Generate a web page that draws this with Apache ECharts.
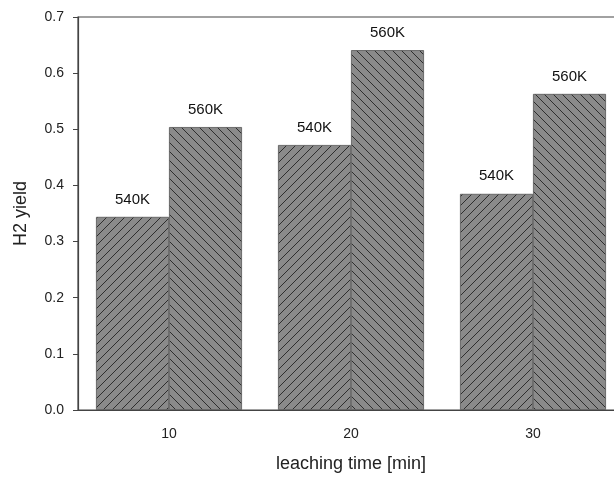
<!DOCTYPE html>
<html>
<head>
<meta charset="utf-8">
<script src="https://cdn.jsdelivr.net/npm/echarts@6/dist/echarts.min.js"></script>
<style>html,body{margin:0;padding:0;background:#fff;}#c{width:614px;height:477px;}</style>
</head>
<body>
<div id="c"></div>
<script>
const categories = ['10', '20', '30'];
const seriesNames = ['540K', '560K'];
const values540 = [0.344, 0.472, 0.385];
const values560 = [0.504, 0.641, 0.563];
const yTicks = [0.0, 0.1, 0.2, 0.3, 0.4, 0.5, 0.6, 0.7];

function hatch(dir) {
  const s = 9;
  const c = document.createElement('canvas');
  c.width = s; c.height = s;
  const g = c.getContext('2d');
  g.fillStyle = '#8a8a8a';
  g.fillRect(0, 0, s, s);
  g.strokeStyle = '#2e2e2e';
  g.lineWidth = 1;
  g.beginPath();
  for (let k = -1; k <= 1; k++) {
    if (dir > 0) { g.moveTo(k * s, s); g.lineTo(k * s + s, 0); }
    else { g.moveTo(k * s, 0); g.lineTo(k * s + s, s); }
  }
  g.stroke();
  return { image: c, repeat: 'repeat' };
}

const chart = echarts.init(document.getElementById('c'), null, { renderer: 'canvas' });
const font = 'Liberation Sans, Arial, sans-serif';
chart.setOption({
  animation: false,
  backgroundColor: '#fff',
  grid: { left: 78, width: 546, top: 17, height: 393, outerBoundsMode: 'none', containLabel: false,
          show: true, borderColor: '#444', borderWidth: 1.2, backgroundColor: 'transparent' },
  xAxis: {
    type: 'category', data: categories,
    name: 'leaching time [min]', nameLocation: 'middle', nameGap: 45,
    nameTextStyle: { fontFamily: font, fontSize: 18, color: '#222' },
    axisLine: { lineStyle: { color: '#444', width: 1.2 } },
    axisTick: { alignWithLabel: true, length: 6, lineStyle: { color: '#444' } },
    axisLabel: { fontFamily: font, fontSize: 14, color: '#222', margin: 17 }
  },
  yAxis: {
    type: 'value', min: 0, max: 0.7, interval: 0.1,
    name: 'H2 yield', nameLocation: 'middle', nameGap: 48, nameRotate: 90,
    nameTextStyle: { fontFamily: font, fontSize: 18, color: '#222' },
    splitLine: { show: false },
    axisLine: { show: true, lineStyle: { color: '#444', width: 1.2 } },
    axisTick: { show: true, length: 5, lineStyle: { color: '#444' } },
    axisLabel: { fontFamily: font, fontSize: 14, color: '#222', margin: 14, formatter: v => v.toFixed(1) }
  },
  series: [
    { name: seriesNames[0], type: 'bar', data: values540, barWidth: 73, barGap: '0%',
      itemStyle: { color: hatch(1), borderColor: '#555', borderWidth: 0.8 },
      label: { show: true, position: 'top', distance: 10, formatter: seriesNames[0], fontFamily: font, fontSize: 15, color: '#111' } },
    { name: seriesNames[1], type: 'bar', data: values560, barWidth: 73, barGap: '0%',
      itemStyle: { color: hatch(-1), borderColor: '#555', borderWidth: 0.8 },
      label: { show: true, position: 'top', distance: 10, formatter: seriesNames[1], fontFamily: font, fontSize: 15, color: '#111' } }
  ]
});
</script>
</body>
</html>
